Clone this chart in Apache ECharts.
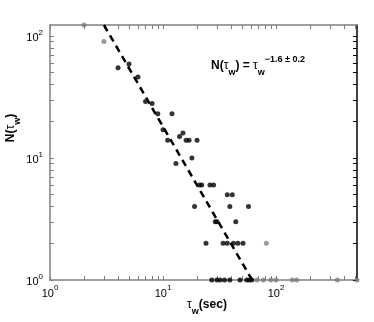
<!DOCTYPE html>
<html lang="en">
<head>
<meta charset="UTF-8" />
<title>Waiting time distribution</title>
<style>
  html, body { margin: 0; padding: 0; background: #fff; }
  #main { width: 374px; height: 322px; }
</style>
</head>
<body>
<div id="main"></div>
<script src="https://cdn.jsdelivr.net/npm/echarts@6/dist/echarts.min.js"></script>
<script>
// points used in the fit (black)
var tauFit = [4, 5, 6, 7, 8, 9, 12, 10, 11, 14, 15, 16, 17, 20, 13, 18,
  21, 22, 26, 28, 37, 41, 19, 39, 57, 29, 30, 44,
  24, 34, 37, 42, 46, 51,
  27, 30, 32, 35, 39, 48, 55, 58, 61];
var countFit = [55, 59, 46, 29, 28, 23, 23, 17, 14, 15, 16, 14, 14, 14, 9, 10,
  6, 6, 6, 6, 5, 5, 4, 4, 4, 3, 3, 3,
  2, 2, 2, 2, 2, 2,
  1, 1, 1, 1, 1, 1, 1, 1, 1];
// points left out of the fit (grey)
var tauOut = [2, 3, 82, 68, 77, 90, 100, 139, 152, 348, 520];
var countOut = [123, 90, 2, 1, 1, 1, 1, 1, 1, 1, 1];
// fitted power law, N = tau^-1.6, end points
var lineTau = [3.0, 61.4];
var lineCount = [123, 1];

var xMax = 520, yMax = 123;
var xTicks = [1, 2, 3, 4, 5, 6, 7, 8, 9, 10, 20, 30, 40, 50, 60, 70, 80, 90, 100, 200, 300, 400, 500];
var yTicks = [1, 2, 3, 4, 5, 6, 7, 8, 9, 10, 20, 30, 40, 50, 60, 70, 80, 90, 100];
var decades = [1, 10, 100];

var lg = Math.log10;
function pairs(xs, ys) {
  return xs.map(function (x, i) { return [lg(x), lg(ys[i])]; });
}

var FONT = "Liberation Sans, Arial, sans-serif";
var GREY = "#808080";

function decadeLabel(v) {
  var k = Math.round(v);
  if (Math.abs(v - k) > 1e-6) return "";
  return "{b|10}{s|" + k + "}";
}
var labelRich = {
  b: { fontSize: 11, fontFamily: FONT, color: "#000", lineHeight: 15, verticalAlign: "bottom" },
  s: { fontSize: 8, fontFamily: FONT, color: "#000", lineHeight: 9, verticalAlign: "top" }
};

function makeAxis(pos, max, ticks, showLabel, color) {
  return {
    type: "value",
    position: pos,
    min: 0,
    max: lg(max),
    splitLine: { show: false },
    axisLine: { show: true, onZero: false, lineStyle: { color: color, width: 1.5 } },
    axisTick: {
      show: true, inside: true, length: 4,
      customValues: ticks.map(lg),
      lineStyle: { color: color, width: 1 }
    },
    axisLabel: {
      show: showLabel,
      customValues: decades.map(lg),
      formatter: decadeLabel,
      rich: labelRich,
      margin: pos === "left" ? 7 : 4
    }
  };
}

var chart = echarts.init(document.getElementById("main"));
chart.setOption({
  animation: false,
  grid: { left: 50, right: 17, top: 25, bottom: 42, containLabel: false },
  xAxis: [
    makeAxis("bottom", xMax, xTicks, true, GREY),
    makeAxis("top", xMax, xTicks, false, GREY)
  ],
  yAxis: [
    makeAxis("left", yMax, yTicks, true, GREY),
    makeAxis("right", yMax, yTicks, false, "#000")
  ],
  series: [
    {
      type: "line",
      data: pairs(lineTau, lineCount),
      symbol: "none",
      clip: false,
      lineStyle: { color: "#000", width: 2.5, type: [7, 5] },
      z: 3
    },
    {
      type: "scatter",
      data: pairs(tauOut, countOut),
      symbolSize: 5,
      clip: false,
      itemStyle: { color: GREY },
      z: 4
    },
    {
      type: "scatter",
      data: pairs(tauFit, countFit),
      symbolSize: 5,
      clip: false,
      itemStyle: { color: "#000" },
      z: 5
    }
  ],
  graphic: [
    {
      type: "text",
      x: 211, y: 55,
      style: {
        text: "{n|N(}{t|τ}{w|w}{n|) = }{t|τ}{w|w}{p|−1.6 ± 0.2}",
        verticalAlign: "top",
        rich: {
          n: { fontSize: 12, fontWeight: "bold", fontFamily: FONT, lineHeight: 22, verticalAlign: "middle" },
          t: { fontSize: 12, fontFamily: FONT, lineHeight: 22, verticalAlign: "middle" },
          w: { fontSize: 9, fontWeight: "bold", fontFamily: FONT, lineHeight: 9, verticalAlign: "bottom" },
          p: { fontSize: 9, fontWeight: "bold", fontFamily: FONT, lineHeight: 10, verticalAlign: "top" }
        }
      }
    },
    {
      type: "text",
      x: 207, y: 305,
      style: {
        text: "{t|τ}{w|w}{n|(sec)}",
        align: "center",
        verticalAlign: "middle",
        rich: {
          n: { fontSize: 12, fontWeight: "bold", fontFamily: FONT, lineHeight: 22, verticalAlign: "middle" },
          t: { fontSize: 12, fontFamily: FONT, lineHeight: 22, verticalAlign: "middle" },
          w: { fontSize: 9, fontWeight: "bold", fontFamily: FONT, lineHeight: 9, verticalAlign: "bottom" }
        }
      }
    },
    {
      type: "text",
      x: 11, y: 128,
      rotation: Math.PI / 2,
      style: {
        text: "{n|N(}{t|τ}{w|w}{n|)}",
        align: "center",
        verticalAlign: "middle",
        rich: {
          n: { fontSize: 12, fontWeight: "bold", fontFamily: FONT, lineHeight: 22, verticalAlign: "middle" },
          t: { fontSize: 12, fontFamily: FONT, lineHeight: 22, verticalAlign: "middle" },
          w: { fontSize: 9, fontWeight: "bold", fontFamily: FONT, lineHeight: 9, verticalAlign: "bottom" }
        }
      }
    }
  ]
});
</script>
</body>
</html>
